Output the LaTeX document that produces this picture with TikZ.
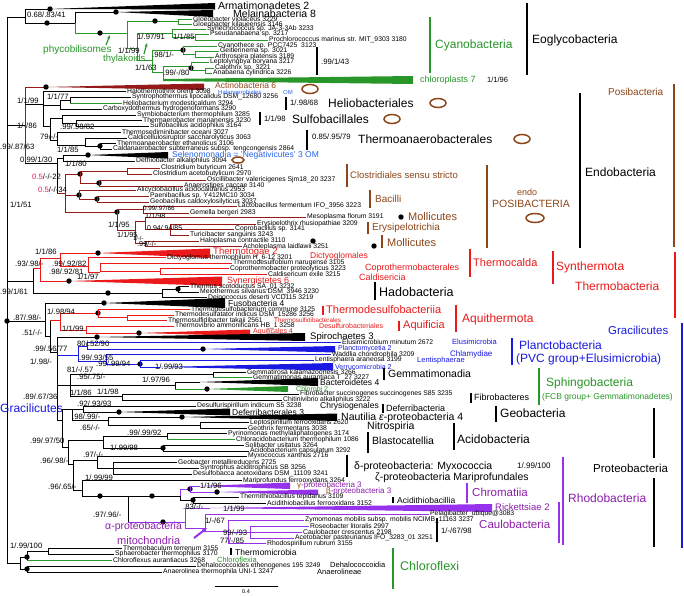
\documentclass[tikz,border=0pt]{standalone}
\usepackage{fontspec}
\setmainfont{Liberation Sans}
\usetikzlibrary{arrows.meta}
\definecolor{cyg}{RGB}{40,150,40}
\definecolor{drd}{RGB}{150,25,25}
\definecolor{rdd}{RGB}{235,25,25}
\definecolor{blu}{RGB}{25,25,225}
\definecolor{hbl}{RGB}{40,100,235}
\definecolor{pur}{RGB}{150,50,235}
\definecolor{ptx}{RGB}{140,30,170}
\definecolor{brn}{RGB}{140,70,25}
\definecolor{mgn}{RGB}{235,30,100}
\newcounter{lc}
\newcommand{\myfs}[1]{\fontsize{#1}{#1}\selectfont}
\tikzset{
  br/.style={line width=0.8pt},
  leaf/.style={anchor=west, inner sep=0pt, font=\myfs{6.8}},
  bs/.style={anchor=west, inner sep=0pt, font=\myfs{7.7}},
  lab/.style={anchor=west, inner sep=0pt},
  clbar/.style={line width=1.7pt},
  ell/.style={draw=brn, line width=1.5pt}
}
\newcommand{\myV}[4][black]{\draw[br,#1] (#2,#3) -- (#2,#4);}
\newcommand{\myH}[4][black]{\draw[br,#1] (#2,#4) -- (#3,#4);}
\newcommand{\myL}[5][black]{\draw[br,#1] (#2,#4) -- (#3,#4);\stepcounter{lc}\node[leaf] (n\arabic{lc}) at (#3+1,#4) {#5};}
\newcommand{\myD}[2]{\fill (#1,#2) circle (2.7pt);}
\newcommand{\myW}[6][black]{\fill[#1] (#2,#3) -- (#4,#5) -- (#4,#6) -- cycle;}
\newcommand{\myB}[4][]{\stepcounter{lc}\node[bs,#1] (b\arabic{lc}) at (#2,#3) {#4};}
\newcommand{\myT}[4][]{\stepcounter{lc}\node[lab,#1] (t\arabic{lc}) at (#2,#3) {#4};}
\newcommand{\myBar}[4][black]{\draw[clbar,#1] (#2,#3) -- (#2,#4);}
\newcommand{\myE}[4]{\draw[ell] (#1,#2) ellipse ({#3} and {#4});}
\begin{document}
\begin{tikzpicture}[x=1pt,y=-1pt]
\useasboundingbox (0,0) rectangle (684,595);
\fill[white] (0,0) rectangle (684,595);
% ---------------- root
\myV{7}{17}{563}
\myD{7}{321}
% ---------------- Eoglycobacteria
\myH{7}{25}{17}
\myV{25}{9}{23}
\myH{25}{50}{9}
\myW{50}{9}{215}{3}{9.5}
\myD{50}{9}
\myH{25}{75}{23}
\myD{47}{23}
\myV{75}{12}{23}
\myV[cyg]{75}{23}{33}
\myH{75}{116}{12}
\myW{116}{12}{213}{10}{17}
\myD{116}{12}
\myH[cyg]{75}{127}{33}
\myD{100}{33}
\myV[cyg]{127}{21}{48}
\myH[cyg]{127}{178}{21}
\myD{155}{21}
\myV[cyg]{178}{19}{24}
\myL[cyg]{178}{192}{19}{Gloeobacter violaceus 3229}
\myL[cyg]{178}{192}{24}{Gloeobacter kilaueensis 3146}
\myH[cyg]{127}{137}{48}
\myV[cyg]{137}{33}{60}
\myH[cyg]{137}{172}{33}
\myV[cyg]{172}{29}{37}
\myL[cyg]{172}{206}{29}{Synechococcus sp. JA-3-3Ab 3233}
\myH[cyg]{172}{195}{37}
\myV[cyg]{195}{34}{40}
\myL[cyg]{195}{209}{34}{Pseudanabaena sp. 3217}
\myL[cyg]{195}{268}{40}{Prochlorococcus marinus str. MIT\_9303 3180}
\myH[cyg]{137}{152}{60}
\myV[cyg]{152}{50}{72}
\myH[cyg]{152}{183}{50}
\myD{183}{50}
\myV[cyg]{183}{46}{54}
\myL[cyg]{183}{217}{46}{Cyanothece sp. PCC7425\ \ 3123}
\myH[cyg]{183}{195}{54}
\myV[cyg]{195}{51}{57}
\myL[cyg]{195}{219}{51}{Geitlerinema sp. 3021}
\myL[cyg]{195}{214}{57}{Arthrospira platensis 3189}
\myH[cyg]{152}{163}{72}
\myV[cyg]{163}{66}{80}
\myH[cyg]{163}{191}{66}
\myD{191}{68}
\myV[cyg]{191}{62}{70}
\myL[cyg]{191}{209}{62}{Leptolyngbya boryana 3217}
\myH[cyg]{191}{205}{70}
\myV[cyg]{205}{68}{73}
\myL[cyg]{205}{214}{68}{Calothrix sp. 3221}
\myL[cyg]{205}{212}{73}{Anabaena cylindrica 3226}
\fill[cyg] (163,79) -- (413,76) -- (413,84) -- (163,81) -- cycle;
\myB{27}{15}{0.68/.83/41}
\myB{118}{51}{1/1/99}
\myB{137}{37}{1/.97/91}
\myB{173}{37}{1/1/85}
\myB{152}{55}{.98/1/-}
\myB{135}{68}{1/1/63}
\myB{163}{73}{.99/-/80}
\myBar{317}{47}{75}
\myB{321}{62}{.99/1/43}
\myT[font=\myfs{10.5}]{218}{6}{Armatimonadetes 2}
\myT[font=\myfs{10.5}]{233}{14}{Melainabacteria 8}
\myBar[cyg]{430}{17}{73}
\myT[font=\myfs{12},text=cyg]{435}{45}{Cyanobacteria}
\myBar{527}{3}{75}
\myT[font=\myfs{12}]{532}{40}{Eoglycobacteria}
\myT[font=\myfs{9},text=cyg]{420}{80}{chloroplasts 7}
\myT[font=\myfs{7.5}]{487}{80}{1/1/96}
\myT[font=\myfs{10},text=cyg]{43}{50}{phycobilisomes}
\myT[font=\myfs{9.5},text=cyg]{103}{59}{thylakoids}
\draw[cyg,line width=1.2pt,-{Stealth[length=4pt]}] (106,45) -- (110,35);
\draw[cyg,line width=1.2pt,-{Stealth[length=4pt]}] (144,54) -- (147,43);
% ---------------- Posibacteria
\myH{7}{25}{125}
\myV[drd]{25}{87}{163}
\myH[drd]{25}{46}{87}
\myW[drd]{46}{87}{204}{83.5}{90}
\myD{46}{87}
\myH{25}{43}{104}
\myV{43}{91}{126}
\myL{43}{126}{91}{Halothermothrix orenii 3098}
\myH{43}{60}{105}
\myV{60}{100}{109}
\myH{60}{70}{100}
\myV{70}{97}{103}
\myL{70}{131}{97}{Syntrophothermus lipocalidus DSM\_12680 3256}
\myL[cyg]{70}{122}{103}{Heliobacterium modesticaldum 3294}
\myL{60}{102}{109}{Carboxydothermus hydrogenoformans 3290}
\myH{43}{50}{126}
\myV{50}{118}{140}
\myH{50}{62}{118}
\myV{62}{115}{123}
\myL{62}{136}{115}{Symbiobacterium thermophilum 3285}
\myH{62}{76}{123}
\myV{76}{120}{126}
\myL{76}{142}{120}{Thermaerobacter marianensis 3230}
\myL{76}{149}{126}{Sulfobacillus acidophilus 3164}
\myH{50}{57}{140}
\myV{57}{132}{145}
\myL{57}{121}{132}{Thermosediminibacter oceani 3027}
\myH{57}{85}{145}
\myV{85}{138}{146}
\myL{85}{127}{138}{Caldicellulosiruptor saccharolyticus 3063}
\myH{85}{100}{146}
\myV{100}{143}{149}
\myD{100}{146}
\myL{100}{116}{143}{Thermoanaerobacter ethanolicus 3106}
\myL{100}{112}{149}{Caldanaerobacter subterraneus subsp. tengcongensis 2864}
\myH{25}{57}{163}
\myV{57}{158}{193}
\myH{57}{63}{158}
\myV{63}{155}{161}
\myH{63}{88}{155}
\myW{88}{155}{168}{152}{158.5}
\myD{88}{155}
\myL{63}{135}{161}{Dethiobacter alkaliphilus 3094}
\myH[drd]{57}{65}{193}
\myV[drd]{65}{174}{212}
\myH[drd]{65}{80}{174}
\myD{80}{174}
\myV[drd]{80}{171}{183}
\myH[drd]{80}{127}{171}
\myV[drd]{127}{168}{174}
\myL[drd]{127}{160}{168}{Clostridium butyricum 2641}
\myL[drd]{127}{152}{174}{Clostridium acetobutylicum 2970}
\myH[drd]{80}{99}{183}
\myD{99}{183}
\myV[drd]{99}{180}{186}
\myL[drd]{99}{206}{180}{Oscillibacter valericigenes Sjm18\_20 3237}
\myL[drd]{99}{183}{186}{Anaerostipes caccae 3140}
\myH[drd]{65}{79}{195}
\myD{79}{195}
\myV[drd]{79}{190}{199}
\myL[drd]{79}{136}{190}{Alicyclobacillus acidocaldarius 2953}
\myH[drd]{79}{97}{199}
\myD{97}{199}
\myV[drd]{97}{196}{202}
\myL[drd]{97}{149}{196}{Paenibacillus sp. Y412MC10 3034}
\myL[drd]{97}{149}{202}{Geobacillus caldoxylosilyticus 3037}
\myH[drd]{65}{117}{212}
\myD{117}{212}
\myV[drd]{117}{209}{230}
\myH[drd]{117}{143}{209}
\myV[drd]{143}{206}{213}
\myL[drd]{143}{237}{206}{Lactobacillus fermentum IFO\_3956 3223}
\myL[drd]{143}{189}{213}{Gemella bergeri 2983}
\myH[drd]{117}{135}{230}
\myV[drd]{135}{221}{243}
\myH[drd]{135}{145}{221}
\myV[drd]{145}{217}{229}
\myL[drd]{145}{306}{217}{Mesoplasma florum 3191}
\myH[drd]{145}{170}{229}
\myV[drd]{170}{224}{235}
\myL[drd]{170}{256}{224}{Erysipelothrix rhusiopathiae 3209}
\myL[drd]{170}{234}{229}{Coprobacillus sp. 3141}
\myL[drd]{170}{189}{235}{Turicibacter sanguinis 3243}
\myH[drd]{135}{145}{243}
\myV[drd]{145}{241}{246}
\myL[drd]{145}{199}{241}{Haloplasma contractile 3110}
\myL[drd]{145}{242}{246.5}{Acholeplasma laidlawii 3251}
\myB{0}{147}{.99/.87/63}
\myB{17}{101}{1/1/99}
\myB{47}{97}{1/1/77}
\myB{17}{126}{1/-/86}
\myB{60}{127}{.99/.98/82}
\myB{40}{137}{79/-/-}
\myB{57}{150}{1/1/85}
\myB{20}{160}{0.99/1/30}
\myB{65}{164}{1/1/80}
\myB{32}{177}{\textcolor{mgn}{0.5}/-/-22}
\myB{38}{190}{\textcolor{mgn}{0.5}/-/-34}
\myB{10}{205}{1/1/51}
\myB[font=\myfs{6.3}]{143}{208}{0.99/.97/86}
\myB[font=\myfs{7.3}]{145}{215.5}{1/1/98}
\myB{108}{225}{1/1/95}
\myB[font=\myfs{7}]{147}{228}{0.94/.94/85}
\myB[font=\myfs{7.3}]{117}{234.5}{1/1/95}
\myB[font=\myfs{5.8}]{133}{238.5}{1/-/-}
\myB[font=\myfs{7.3}]{137}{243.5}{.99/-/-}
\myT[font=\myfs{8.5},text=brn]{215}{85.5}{Actinobacteria 6}
\myE{310}{89}{8}{4.5}
\myT[font=\myfs{6},text=hbl]{218}{92.5}{Halanaerobiales}
\myT[font=\myfs{6},text=hbl]{283}{92.5}{OM}
\myBar{286}{97}{110}
\myB{290}{103}{1/.98/68}
\myT[font=\myfs{12}]{328}{103}{Heliobacteriales}
\myE{438}{103}{8}{4.5}
\myBar{260}{112}{125}
\myB{264}{119}{1/1/98}
\myT[font=\myfs{12}]{292}{119}{Sulfobacillales}
\myE{392}{119}{8}{4.5}
\myBar{307}{130}{150}
\myB{312}{137}{0.85/.95/79}
\myT[font=\myfs{12}]{358}{139}{Thermoanaerobacterales}
\myE{522}{139}{8}{4.5}
\myT[font=\myfs{8.5},text=hbl]{172}{155}{Selenomonadia = 'Negativicutes' 3 OM}
\myE{238}{160}{6}{3}
\myBar[brn]{347}{164}{187}
\myT[font=\myfs{9.5},text=brn]{350}{175}{Clostridiales sensu stricto}
\myBar[brn]{370}{190}{208}
\myT[font=\myfs{10},text=brn]{375}{199}{Bacilli}
\myD{401}{217}
\myT[font=\myfs{11},text=brn]{408}{217}{Mollicutes}
\myBar[brn]{368}{222}{234}
\myT[font=\myfs{10},text=brn]{372}{228}{Erysipelotrichia}
\myBar[brn]{382}{235}{248}
\myD{374}{246}
\myD{313}{241}
\myT[font=\myfs{11},text=brn]{387}{243}{Mollicutes}
\myBar[brn]{674}{84}{247}
\myT[font=\myfs{10},text=brn]{608}{92}{Posibacteria}
\myBar{580}{93}{248}
\myT[font=\myfs{12}]{585}{172}{Endobacteria}
\myBar[brn]{487}{165}{248}
\myT[font=\myfs{9},text=brn]{517}{192}{endo}
\myT[font=\myfs{10.5},text=brn]{492}{204}{POSIBACTERIA}
\myE{535}{218}{9}{4.5}
% ---------------- Thermotogae etc.
\myH{7}{33}{281}
\myV{33}{268}{293}
\myH[rdd]{33}{40}{268}
\myV[rdd]{40}{258}{281}
\myH[rdd]{40}{60}{258}
\myV[rdd]{60}{253}{266}
\myH[rdd]{60}{98}{253}
\myW[rdd]{98}{253}{210}{248.5}{258}
\myD{98}{253}
\myH[rdd]{60}{88}{266}
\myV[rdd]{88}{257}{272}
\myL[rdd]{88}{166}{257.5}{Dictyoglomus thermophilum H\_6-12 3201}
\myH[rdd]{88}{100}{272}
\myV[rdd]{100}{263}{272}
\myL[rdd]{100}{232}{263}{Thermodesulfobium narugense 3105}
\myH[rdd]{100}{160}{271}
\myV[rdd]{160}{268}{274}
\myL[rdd]{160}{229}{268.5}{Coprothermobacter proteolyticus 3223}
\myL[rdd]{160}{267}{274}{Caldisericum exile 3215}
\myH[rdd]{40}{69}{281}
\myW[rdd]{69}{281}{222}{276.5}{286}
\myD{69}{281}
\myH{33}{162}{293}
\myD{108}{293}
\myV{162}{289}{298}
\myH{162}{178}{289}
\myD{178}{289}
\myV{178}{286}{292}
\myL{178}{189}{286.5}{Thermus scotoductus SA\_01 3232}
\myL{178}{199}{292}{Meiothermus silvanus DSM\_3946 3230}
\myL{162}{207}{297.5}{Deinococcus deserti VCD115 3219}
\myB{35}{252}{1/1/86}
\myB{15}{264}{.93/.98/-}
\myB{52}{264}{.99/.92/82}
\myB{49}{272}{.98/.92/81}
\myB{77}{276.5}{1/1/97}
\myB{0}{292}{.99/1/61}
\myT[font=\myfs{9.5},text=rdd]{213}{252}{Thermotogae 2}
\myT[font=\myfs{8.5},text=rdd]{310}{256}{Dictyoglomales}
\myT[font=\myfs{9},text=rdd]{365}{268}{Coprothermobacterales}
\myT[font=\myfs{9},text=rdd]{359}{277.5}{Caldisericia}
\myT[font=\myfs{9},text=rdd]{227}{281}{Synergistetes 6}
\myBar[rdd]{470}{249}{277}
\myT[font=\myfs{11},text=rdd]{473}{263}{Thermocalda}
\myBar[rdd]{553}{251}{284}
\myT[font=\myfs{12},text=rdd]{556}{267}{Synthermota}
\myBar[rdd]{675}{252}{318}
\myT[font=\myfs{12},text=rdd]{575}{286}{Thermobacteria}
\myBar{375}{282}{300}
\myT[font=\myfs{12.5}]{379}{292}{Hadobacteria}
% ---------------- lower half
\myH{7}{45}{321}
\myV{45}{303}{336}
\myH{45}{104}{303}
\myW{104}{303}{225}{298}{308}
\myD{104}{303}
\myT[font=\myfs{8.5}]{228}{303}{Fusobacteria 4}
\myH{45}{50}{336}
\myV{50}{320}{352}
\myH[rdd]{50}{60}{320}
\myV[rdd]{60}{313}{330}
\myH[rdd]{60}{98}{313}
\myD{98}{313}
\myV[rdd]{98}{310}{317}
\myL[rdd]{98}{190}{309.5}{Thermodesulfobacterium commune 3125}
\myH[rdd]{98}{127}{317}
\myV[rdd]{127}{315}{321}
\myL[rdd]{127}{174}{315}{Thermodesulfatator indicus DSM\_15286 3256}
\myL[rdd]{127}{167}{320.5}{Thermosulfidibacter takaii 2561}
\myH[rdd]{60}{86}{330}
\myV[rdd]{86}{326}{333}
\myL[rdd]{86}{174}{326}{Thermovibrio ammonificans HB\_1 3258}
\myH[rdd]{86}{139}{333}
\myW[rdd]{139}{333}{250}{329.5}{336}
\myD{139}{333}
\myB{47}{312}{1/.98/94}
\myB{13}{318}{.87/.98/-}
\myB{62}{329}{1/1/99}
\myB{22}{333}{.51/-/-}
\myBar[rdd]{323}{306}{315}
\myT[font=\myfs{11},text=rdd]{326}{310}{Thermodesulfobacteriia}
\myT[font=\myfs{6.3},text=rdd]{274}{320}{Thermosulfidibacterales}
\myT[font=\myfs{7},text=rdd]{319}{326}{Desulfurobacteriales}
\myBar[rdd]{399}{321}{331}
\myT[font=\myfs{11},text=rdd]{403}{326}{Aquificia}
\myT[font=\myfs{7},text=rdd]{253}{332}{Aquificales 4}
\myBar[rdd]{456}{305}{332}
\myT[font=\myfs{12},text=rdd]{462}{319}{Aquithermota}
\myH{50}{57}{352}
\myV{57}{337}{420}
\myH{57}{97}{337}
\myW{97}{337}{305}{333}{341}
\myD{97}{337}
\myT[font=\myfs{9.5}]{310}{337}{Spirochaetes 3}
% PVC
\myH[blu]{57}{78}{355}
\myV[blu]{78}{346}{361}
\myH[blu]{78}{87}{346}
\myV[blu]{87}{343}{349}
\myL[blu]{87}{341}{342.5}{Elusimicrobium minutum 2672}
\myH[blu]{87}{203}{349}
\myW[blu]{203}{349}{335}{346}{352.5}
\myD{203}{349}
\myH[blu]{78}{106}{361}
\myV[blu]{106}{354}{364}
\myL[blu]{106}{331}{354.5}{Waddlia chondrophila 3209}
\myH[blu]{106}{140}{364}
\myD{140}{364}
\myV[blu]{140}{360}{367}
\myL[blu]{140}{314}{360}{Lentisphaera araneosa 3199}
\myH[blu]{140}{160}{367}
\myW[blu]{160}{367}{333}{363}{370.5}
\myT[font=\myfs{7},text=blu]{338}{349}{Planctomycetia 2}
\myT[font=\myfs{7},text=blu]{335}{366.5}{Verrucomicrobia 2}
\myT[font=\myfs{7.5},text=blu]{452}{342}{Elusimicrobia}
\myT[font=\myfs{8},text=blu]{450}{354}{Chlamydiae}
\myT[font=\myfs{7.5},text=blu]{417}{361}{Lentisphaerae}
\myBar[blu]{512}{338}{365}
\myT[font=\myfs{12},text=blu]{519}{345}{Planctobacteria}
\myT[font=\myfs{12},text=blu]{516}{359}{(PVC group+Elusimicrobia)}
\myBar[blu]{682}{323}{548}
\myT[font=\myfs{11.5},text=blu]{608}{330}{Gracilicutes}
\myB{77}{344}{80/.52/90}
\myB{33}{349}{.99/.56/77}
\myB{79}{358}{.99/.93/55}
\myB{30}{362}{1/.98/-}
\myB{96}{364}{.99/.99/94}
\myB{155}{367}{1/.99/93}
% FCB
\myH{57}{70}{385}
\myV{70}{374}{396}
\myH{70}{213}{374}
\myV{213}{372}{377}
\myL{213}{246}{372}{Gemmatirosa kalamazoonesis 3266}
\myL[cyg]{213}{252}{377.5}{Gemmatimonas aurantiaca T\_27 3227}
\myH{70}{175}{385}
\myV{175}{382}{389}
\myH{175}{200}{382}
\myW{200}{382}{318}{378}{386}
\myH[cyg]{175}{207}{389}
\myW[cyg]{207}{389}{288}{386}{392}
\myD{207}{389}
\myH{70}{122}{396}
\myV{122}{394}{400}
\myL{122}{299}{394}{Fibrobacter succinogenes succinogenes S85 3235}
\myL{122}{282}{400}{Chitinivibrio alkaliphilus 3222}
\myB{67}{370}{81/-/.57}
\myB{77}{377}{.95/.75/-}
\myB{142}{380}{1/.97/96}
\myB{70}{393}{1/1/86}
\myB{97}{392}{1/1/98}
\myB{23}{397}{.89/.67/36}
\myBar{384}{368}{380}
\myT[font=\myfs{10.5}]{388}{374}{Gemmatimonadia}
\myT[font=\myfs{8.5}]{320}{382.5}{Bacteroidetes 4}
\myT[font=\myfs{7},text=cyg]{296}{388.5}{Chlorobi 2}
\myBar[cyg]{539}{368}{405}
\myT[font=\myfs{12},text=cyg]{546}{383}{Sphingobacteria}
\myT[font=\myfs{8.5},text=cyg]{542}{397}{(FCB group+ Gemmatimonadetes)}
\myBar{471}{393}{403}
\myT[font=\myfs{9}]{474}{397}{Fibrobacteres}
\myT[font=\myfs{12},text=blu]{0}{408.5}{Gracilicutes}
% Deferri, Nitrospira, Acido
\myH{57}{62}{420}
\myV{62}{409}{447}
\myH{62}{72}{409}
\myV{72}{409}{420}
\myH{72}{83}{409}
\myV{83}{406}{413}
\myL{83}{196}{406}{Desulfurispirillum indicum S5 3238}
\myH{83}{119}{412}
\myW{119}{412}{230}{408.5}{415.5}
\myD{119}{412}
\myH{72}{108}{420}
\myV{108}{417}{425}
\myH{108}{182}{417}
\myW{182}{417}{337}{413.5}{421}
\myD{182}{417}
\myH{108}{200}{425}
\myV{200}{422}{428}
\myL{200}{249}{422.5}{Leptospirillum ferrooxidans 2620}
\myL{200}{247}{428}{Geothrix fermentans 3038}
\myH{62}{68}{447}
\myV{68}{440}{464}
\myH{68}{103}{440}
\myV{103}{436}{448}
\myH{103}{167}{436}
\myV{167}{433}{439}
\myL{167}{227}{433.5}{Pyrinomonas methylaliphatogenes 3174}
\myL[cyg]{167}{235}{439.5}{Chloracidobacterium thermophilum 1086}
\myH{103}{163}{448}
\myD{163}{448}
\myV{163}{445}{451}
\myL{163}{244}{445}{Solibacter usitatus 3264}
\myL{163}{249}{451}{Acidobacterium capsulatum 3292}
\myB{77}{404}{.92/.93/93}
\myB{72}{417}{.98/.99/-}
\myB{80}{428}{.65/-/-}
\myB{127}{433}{.99/.99/92}
\myB{30}{441}{.99/.97/50}
\myB{110}{448}{1/.99/98}
\myT[font=\myfs{8.5}]{320}{406.5}{Chrysiogenales}
\myBar{383}{404}{413}
\myT[font=\myfs{9}]{386}{408}{Deferribacteria}
\myT[font=\myfs{8.5}]{232}{412}{Deferribacterales 3}
\myBar{496}{406}{422}
\myT[font=\myfs{12}]{500}{413}{Geobacteria}
\myT[font=\myfs{10.5}]{341}{417.5}{Nautilia \textit{ε}-proteobacteria 4}
\myT[font=\myfs{10.5}]{367}{426.5}{Nitrospiria}
\myBar{368}{432}{453}
\myT[font=\myfs{10.5}]{372}{441}{Blastocatellia}
\myBar{454}{423}{450}
\myT[font=\myfs{12}]{457}{439}{Acidobacteria}
% Proteobacteria
\myH{68}{73}{464}
\myV{73}{460}{490}
\myH{73}{97}{460}
\myV{97}{456}{468}
\myL{97}{247}{456}{Myxococcus xanthus 2716}
\myH{97}{113}{468}
\myV{113}{462}{474}
\myL{113}{177}{462}{Geobacter metallireducens 2725}
\myL{113}{199}{468}{Syntrophus aciditrophicus SB 3256}
\myL{113}{192}{474}{Desulfobacca acetoxidans DSM\_11109 3241}
\myH{73}{82}{490}
\myV{82}{481}{496}
\myL{82}{242}{480.5}{Mariprofundus ferrooxydans 3264}
\myH{82}{128}{496}
\myD{100}{496}
\myV{128}{496}{522}
\myH{128}{180}{496}
\myD{152}{496}
\myV[pur]{180}{489}{496}
\myV{180}{496}{500}
\myH[pur]{180}{190}{489}
\myD{190}{489}
\myV[pur]{190}{486}{492}
\myH[pur]{190}{200}{486}
\myW[pur]{200}{486}{290}{482.5}{489}
\myH[pur]{190}{217}{492}
\myW[pur]{217}{492}{318}{489.5}{495}
\myD{217}{492}
\myH{180}{193}{500}
\myD{193}{500}
\myV{193}{497}{503}
\myL{193}{239}{497}{Thermithiobacillus tepidarius 3109}
\myL{193}{266}{503}{Acidithiobacillus ferrooxidans 3152}
\myH[pur]{128}{185}{522}
\myD{163}{522}
\myV[pur]{185}{508}{528}
\myH[pur]{185}{210}{508}
\myW[pur]{210}{508}{492}{504}{512}
\myH[pur]{185}{205}{528}
\myV[pur]{205}{514}{531}
\myL[pur]{205}{429}{514}{Pelagibacter\_ubique@3083}
\myH[pur]{205}{228}{531}
\myV[pur]{228}{520}{543}
\myL[pur]{228}{304}{520}{Zymomonas mobilis subsp. mobilis NCIMB\_11163 3237}
\myH[pur]{228}{250}{532}
\myV[pur]{250}{526}{538}
\myL[pur]{250}{309}{526}{Roseobacter litoralis 2997}
\myL[pur]{250}{302}{532}{Caulobacter crescentus 2198}
\myL[pur]{250}{294}{538}{Acetobacter pasteurianus IFO\_3283\_01 3251}
\myL[pur]{228}{266}{543.5}{Rhodospirillum rubrum 3155}
\myB{83}{455}{.97/-/-}
\myB{40}{461}{.96/.98/-}
\myB{85}{478}{1/.99/99}
\myB{200}{486}{1/1/96}
\myB{48}{487}{.96/.65/-}
\myB{183}{507}{.83/-/-}
\myB{223}{509}{1/1/99}
\myB{93}{515}{.97/.96/-}
\myB{205}{521}{1/-/67}
\myB{223}{533}{99/-/93}
\myB{220}{541}{77/-/85}
\myBar{437}{518}{542}
\myB{441}{531}{1/-/67/98}
\myBar{347}{455}{477}
\myT[font=\myfs{10.5}]{354}{467}{δ-proteobacteria: Myxococcia}
\myT[font=\myfs{8}]{517}{466}{1/.99/100}
\myT[font=\myfs{10.5}]{375}{478}{ζ-proteobacteria Mariprofundales}
\myBar{654}{408}{458}
\myBar{654}{478}{547}
\myT[font=\myfs{11.5}]{593}{468}{Proteobacteria}
\myT[font=\myfs{8},text=ptx]{297}{485}{\textcolor{brn}{γ}-proteobacteria 3}
\myT[font=\myfs{8},text=ptx]{326}{491}{\textcolor{brn}{β}-proteobacteria 3}
\myBar[pur]{467}{483}{503}
\myT[font=\myfs{11.5},text=ptx]{472}{492}{Chromatiia}
\myBar{393}{497}{503}
\myT[font=\myfs{8.5}]{397}{500}{Acidithiobacillia}
\myBar[pur]{563}{457}{545}
\myT[font=\myfs{12},text=ptx]{568}{498}{Rhodobacteria}
\myT[font=\myfs{9.5},text=ptx]{495}{507}{Rickettsiae 2}
\myBar[pur]{559}{502}{543}
\myT[font=\myfs{11.5},text=ptx]{479}{524}{Caulobacteria}
\myT[font=\myfs{10.5},text=ptx]{105}{527}{α-proteobacteria}
\myT[font=\myfs{11},text=ptx]{117}{541}{mitochondria}
\draw[pur,line width=2pt,-{Stealth[length=5pt]}] (194,538) -- (207,528);
% ---------------- Chloroflexi
\myH{7}{20}{563}
\myV{20}{557}{569}
\myH{20}{27}{557}
\myH{20}{27}{569}
\myD{27}{557}
\myD{27}{569}
\myV{27}{551}{560}
\myH{27}{48}{551}
\myV{48}{548}{554}
\myL{48}{122}{548}{Thermobaculum terrenum 3155}
\myL{48}{114}{554}{Sphaerobacter thermophilus 3170}
\myL[cyg]{27}{112}{560}{Chloroflexus aurantiacus 3268}
\myV{27}{566}{572}
\myL{27}{196}{566}{Dehalococcoides ethenogenes 195 3249}
\myL{27}{162}{572}{Anaerolinea thermophila UNI-1 3247}
\myB{10}{546}{1/.99/100}
\myBar{231}{548}{555}
\myT[font=\myfs{8.5}]{235}{552}{Thermomicrobia}
\myT[font=\myfs{7.5},text=cyg]{217}{560}{Chloroflexia}
\myT[font=\myfs{7.5}]{330}{565}{Dehalococcoidia}
\myT[font=\myfs{7.5}]{317}{572}{Anaerolineae}
\myBar[cyg]{393}{548}{589}
\myT[font=\myfs{12.5},text=cyg]{400}{566}{Chloroflexi}
% scale bar
\coordinate (s1) at (215,586);
\coordinate (s2) at (278,586);
\draw[line width=0.6pt] (s1) -- (s2);
\node[inner sep=0pt,font=\myfs{5.5}] (sc) at (246,592) {0.4};
\end{tikzpicture}
\end{document}
